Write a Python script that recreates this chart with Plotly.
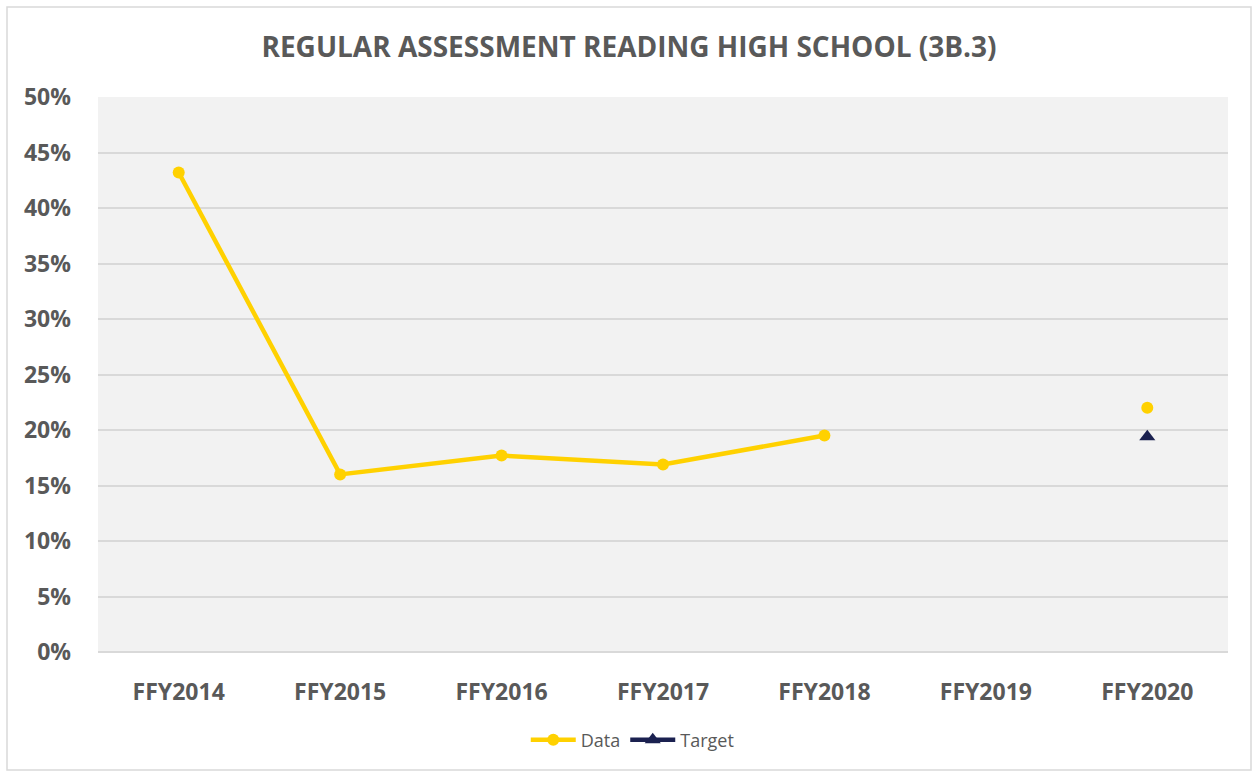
import plotly.graph_objects as go

categories = ["FFY2014", "FFY2015", "FFY2016", "FFY2017", "FFY2018", "FFY2019", "FFY2020"]
data_values = [0.432, 0.160, 0.177, 0.169, 0.195, None, 0.220]
target_values = [None, None, None, None, None, None, 0.194]
y_ticks = [0, 0.05, 0.10, 0.15, 0.20, 0.25, 0.30, 0.35, 0.40, 0.45, 0.50]

W, H = 1253, 771
L, R, T, B = 98, 1228, 97, 652
font = "'Open Sans', sans-serif"
grey = "#595959"
gold = "#FFD100"
navy = "#1B2150"

fig = go.Figure()
fig.add_trace(go.Scatter(
    x=categories, y=data_values, name="Data", mode="lines+markers",
    line=dict(color=gold, width=4.5), marker=dict(color=gold, size=12),
    connectgaps=False,
))
fig.add_trace(go.Scatter(
    x=categories, y=target_values, name="Target", mode="lines+markers",
    line=dict(color=navy, width=4.5), marker=dict(color=navy, size=14, symbol="triangle-up"),
))

px = lambda x: (x - L) / (R - L)
py = lambda y: (B - y) / (B - T)
fig.add_shape(type="rect", xref="paper", yref="paper",
              x0=px(7), x1=px(1251), y0=py(770), y1=py(7),
              line=dict(color="#D9D9D9", width=1.5), fillcolor="rgba(0,0,0,0)", layer="below")

fig.update_layout(
    width=W, height=H,
    margin=dict(l=L, r=W - R, t=T, b=H - B, pad=0),
    paper_bgcolor="white", plot_bgcolor="#F2F2F2",
    title=dict(text="<b>REGULAR ASSESSMENT READING HIGH SCHOOL (3B.3)</b>",
               x=0.502, xref="container", xanchor="center",
               y=1 - 47 / H, yanchor="middle",
               font=dict(family=font, size=28, color=grey)),
    font=dict(family=font, color=grey),
    showlegend=True,
    legend=dict(orientation="h", x=0.505, xanchor="center", xref="container",
                y=1 - 740 / H, yanchor="middle", yref="container",
                font=dict(family=font, size=18, color=grey),
                itemwidth=45, traceorder="normal", bgcolor="rgba(0,0,0,0)"),
    xaxis=dict(type="category", categoryorder="array", categoryarray=categories,
               range=[-0.5, 6.5], showgrid=False, zeroline=False,
               showline=False, ticks="",
               tickfont=dict(family=font, size=23, color=grey, weight="bold"),
               ticklabelstandoff=24),
    yaxis=dict(range=[0, 0.5], tickvals=y_ticks, tickformat=".0%",
               showgrid=True, gridcolor="#D9D9D9", gridwidth=1.5,
               zeroline=True, zerolinecolor="#D9D9D9", zerolinewidth=2,
               showline=False, ticks="",
               tickfont=dict(family=font, size=23, color=grey, weight="bold"),
               ticklabelstandoff=26),
)

fig.write_html("out.html", config={"displayModeBar": False},
               post_script="document.body.style.margin='0';document.body.style.overflow='hidden';")
